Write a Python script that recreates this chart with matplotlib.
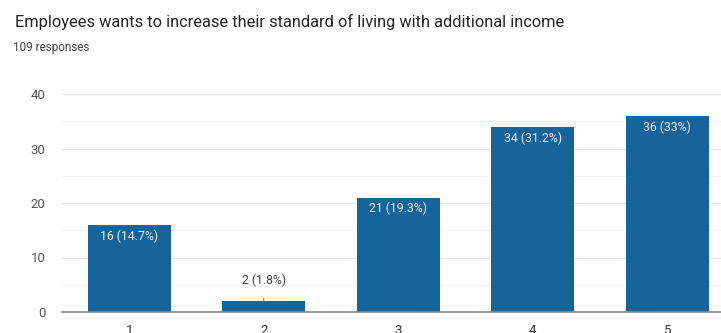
import matplotlib.pyplot as plt
from matplotlib.ticker import MultipleLocator

plt.rcParams['font.family'] = ['Roboto', 'DejaVu Sans']

# Survey answers on a 1-5 scale
categories = ['1', '2', '3', '4', '5']
counts = [16, 2, 21, 34, 36]
percents = ['14.7%', '1.8%', '19.3%', '31.2%', '33%']
total = 109

title = 'Employees wants to increase their standard of living with additional income'
bar_color = '#17649a'

fig = plt.figure(figsize=(7.21, 3.33), dpi=100)
# plot area runs a little past the right edge of the figure
ax = fig.add_axes([62 / 721, 21 / 333, 672.5 / 721, 218 / 333])

x = list(range(1, len(categories) + 1))
bars = ax.bar(x, counts, width=0.617, color=bar_color, zorder=3)

ax.set_xlim(0.5, 5.5)
ax.set_ylim(0, 40)
ax.yaxis.set_major_locator(MultipleLocator(10))
ax.yaxis.set_minor_locator(MultipleLocator(5))
ax.grid(axis='y', which='major', color='#e6e6e6', linewidth=0.9, zorder=0)
ax.grid(axis='y', which='minor', color='#f3f3f3', linewidth=0.9, zorder=0)

for side in ['top', 'right', 'left']:
    ax.spines[side].set_visible(False)
ax.spines['bottom'].set_color('#888888')
ax.spines['bottom'].set_linewidth(1.2)
ax.spines['bottom'].set_zorder(4)

ax.set_xticks(x)
ax.set_xticklabels(categories)
ax.tick_params(axis='x', length=0, pad=9, labelsize=9.5, labelcolor='#333333')
ax.tick_params(axis='y', which='both', length=0, pad=12, labelsize=9.5, labelcolor='#555555')

# value labels: inside the bar when there is room, above it with a leader otherwise
for xi, c, p in zip(x, counts, percents):
    label = f'{c} ({p})'
    if c >= 10:
        ax.annotate(label, (xi, c), xytext=(0, -8), textcoords='offset points',
                    ha='center', va='center', color='#e8eef5', fontsize=8.8, zorder=5)
    else:
        ax.annotate(label, (xi, c), xytext=(0, 15), textcoords='offset points',
                    ha='center', va='center', color='#444444', fontsize=8.8,
                    arrowprops=dict(arrowstyle='-', color='#777777', lw=0.8,
                                    shrinkA=6, shrinkB=0), zorder=5)

fig.text(15 / 721, 1 - 22 / 333, title, fontsize=11.8, color='#222222', va='center', ha='left')
fig.text(13 / 721, 1 - 47 / 333, f'{total} responses', fontsize=8.5, color='#444444',
         va='center', ha='left')

fig.savefig('out.png', dpi=100)
